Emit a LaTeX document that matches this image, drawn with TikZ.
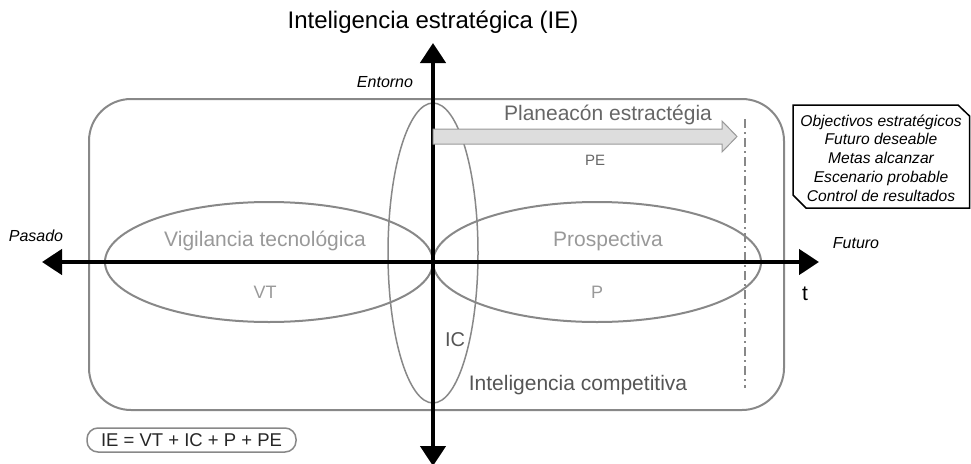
\documentclass[tikz,border=0pt]{standalone}
\usepackage{fontspec}
\setmainfont{Liberation Sans}
\usetikzlibrary{arrows.meta}
\definecolor{framegray}{HTML}{888888}
\definecolor{lightlabel}{HTML}{999999}
\definecolor{midlabel}{HTML}{666666}
\definecolor{darklabel}{HTML}{555555}
\definecolor{arrowfill}{HTML}{DDDDDD}
\tikzset{
  axisline/.style={line width=4.5pt,-{Triangle[length=20pt,width=25pt]}},
  grayline/.style={draw=framegray,line width=2pt},
  biglabel/.style={font=\fontsize{21}{25}\selectfont,inner sep=0pt},
  smalllabel/.style={font=\fontsize{18}{21}\selectfont,inner sep=0pt},
  itlabel/.style={font=\fontsize{16}{19}\selectfont\itshape,inner sep=0pt},
}
\begin{document}
\begin{tikzpicture}[x=1pt,y=-1pt]
\useasboundingbox (0,0) rectangle (971,463);
% title
\node[font=\fontsize{24}{28}\selectfont,inner sep=0pt] (title) at (433,22) {Inteligencia estratégica (IE)};
% main rounded frame
\draw[grayline,rounded corners=42pt] (89,99) rectangle (784,410);
% ellipses
\draw[grayline] (269,262) ellipse [x radius=164,y radius=60];
\draw[grayline] (597,262) ellipse [x radius=164,y radius=60];
\draw[grayline,line width=1.5pt] (433,253) ellipse [x radius=45,y radius=150];
% dash-dot line
\coordinate (dtop) at (745,119);
\coordinate (dbot) at (745,388);
\draw[draw=framegray,line width=2pt,dash pattern=on 9pt off 4pt on 2pt off 4pt] (dtop) -- (dbot);
% axes
\coordinate (ybot) at (433,466);
\coordinate (ytop) at (433,43);
\coordinate (xleft) at (42,262);
\coordinate (xright) at (819,262);
\coordinate (orig) at (433,262);
\draw[axisline] (orig) -- (ytop);
\draw[axisline] (orig) -- (ybot);
\draw[axisline] (orig) -- (xleft);
\draw[axisline] (orig) -- (xright);
% PE block arrow
\draw[fill=arrowfill,draw=lightlabel,line width=1pt]
  (433,129) -- (722,129) -- (722,121) -- (737,136.5) -- (722,152) -- (722,144) -- (433,144) -- cycle;
% labels
\node[itlabel] (entorno) at (385,82) {Entorno};
\node[itlabel] (pasado) at (36,236) {Pasado};
\node[itlabel] (futuro) at (856,243) {Futuro};
\node[biglabel,text=midlabel] (pe) at (608,115) {Planeacón estractégia};
\node[font=\fontsize{15}{18}\selectfont,inner sep=0pt,text=midlabel] (pelbl) at (595,160) {PE};
\node[biglabel,text=lightlabel] (vt) at (265,241) {Vigilancia tecnológica};
\node[smalllabel,text=lightlabel] (vtlbl) at (265,292) {VT};
\node[biglabel,text=lightlabel] (prosp) at (608,241) {Prospectiva};
\node[smalllabel,text=lightlabel] (plbl) at (597,292) {P};
\node[font=\fontsize{20}{24}\selectfont,inner sep=0pt,text=darklabel] (ic) at (455,340) {IC};
\node[biglabel,text=darklabel] (icname) at (578,385) {Inteligencia competitiva};
\node[font=\fontsize{21}{25}\selectfont,inner sep=0pt] (tlbl) at (805,294) {t};
% formula
\node[draw=framegray,line width=1.5pt,rounded corners=11pt,minimum width=209pt,minimum height=24pt,inner sep=0pt,
      font=\fontsize{18.5}{21}\selectfont,text=black!85] (formula) at (191.5,440) {IE = VT + IC + P + PE};
% goals box
\node[align=center,font=\fontsize{15.6}{18.8}\selectfont\itshape,inner sep=0pt] (goals) at (881,158)
  {Objectivos estratégicos\\Futuro deseable\\Metas alcanzar\\Escenario probable\\Control de resultados};
\coordinate (g1) at (793,105);
\coordinate (g2) at (958,105);
\coordinate (g3) at (969.5,116);
\coordinate (g4) at (969.5,208);
\coordinate (g5) at (806,208);
\coordinate (g6) at (793,195);
\draw[line width=1.5pt,line join=miter] (g1) -- (g2) -- (g3) -- (g4) -- (g5) -- (g6) -- cycle;
\end{tikzpicture}
\end{document}
